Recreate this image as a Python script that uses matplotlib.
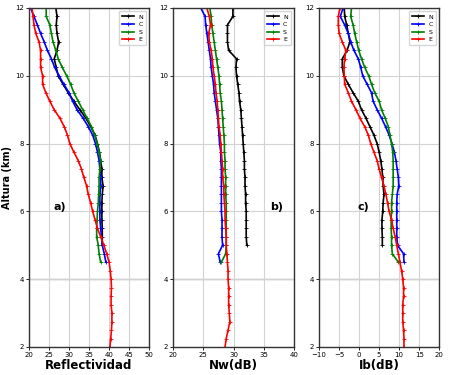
import matplotlib.pyplot as plt
import numpy as np

# alturas (km), paso 0.25
h_E = [2 + 0.25 * i for i in range(41)]   # 2 .. 12
h_N = [5 + 0.25 * i for i in range(29)]   # 5 .. 12
h_CS = [4.5 + 0.25 * i for i in range(31)]  # 4.5 .. 12

# a) Reflectividad
refl_N = [38.3, 38.3, 38.3, 38.2, 38.2, 38.2, 38.3, 38.5, 38.2, 38.2, 37.9, 37.6, 37.1, 36.5,
          35.4, 34.2, 32.7, 31.2, 29.8, 28.5, 27.3, 26.8, 26.3, 27.0, 27.4, 27.0, 26.8, 27.0,
          26.7]
refl_C = [39.2, 38.8, 38.3, 38.1, 37.9, 37.7, 37.7, 37.7, 37.7, 37.9, 37.9, 37.7, 37.5, 37.1,
          36.6, 35.9, 34.8, 33.5, 32.0, 30.9, 30.0, 28.7, 27.5, 26.4, 25.6, 24.6, 23.8, 22.9,
          22.1, 21.25, 20.4]
refl_S = [37.9, 37.5, 37.3, 36.9, 36.9, 37.0, 37.1, 37.3, 37.4, 37.5, 37.5, 37.7, 37.9, 37.5,
          37.0, 36.4, 35.6, 34.5, 33.4, 32.3, 31.2, 30.4, 29.4, 28.3, 27.3, 26.7, 26.0, 25.6,
          25.2, 24.3, 24.3]
refl_E = [40.2, 40.4, 40.6, 40.7, 40.7, 40.5, 40.5, 40.6, 40.5, 40.3, 40.0, 39.4, 38.7, 37.9,
          37.1, 36.5, 35.9, 35.4, 34.8, 34.4, 33.7, 33.1, 32.3, 31.2, 30.2, 29.6, 28.8, 27.7,
          26.3, 25.2, 24.2, 23.4, 23.4, 22.9, 22.9, 22.9, 22.5, 21.7, 21.25, 21.0, 20.75]

# b) Nw(dB)
nw_N = [32.2, 32.1, 32.1, 32.1, 32.1, 32.0, 32.0, 31.9, 31.9, 31.8, 31.8, 31.7, 31.6, 31.5,
        31.4, 31.3, 31.2, 31.0, 30.9, 30.7, 30.5, 30.4, 30.5, 29.2, 29.0, 29.0, 29.0, 29.9,
        29.9]
nw_C = [27.8, 27.5, 28.2, 28.1, 28.1, 28.1, 28.0, 28.0, 28.0, 28.0, 28.0, 28.0, 27.9, 27.9,
        27.7, 27.6, 27.5, 27.4, 27.2, 27.0, 26.8, 26.7, 26.5, 26.3, 26.2, 26.0, 25.8, 25.6,
        25.4, 25.3, 24.6]
nw_S = [28.0, 28.7, 28.8, 28.8, 28.8, 28.8, 28.8, 28.8, 28.7, 28.7, 28.7, 28.6, 28.6, 28.5,
        28.5, 28.4, 28.3, 28.2, 28.1, 28.0, 27.8, 27.7, 27.6, 27.4, 27.2, 27.0, 26.8, 26.6,
        26.4, 26.3, 26.1]
nw_E = [28.6, 28.8, 29.1, 29.4, 29.3, 29.2, 29.2, 29.2, 29.1, 29.1, 29.0, 28.9, 28.8, 28.8,
        28.7, 28.6, 28.6, 28.5, 28.4, 28.4, 28.2, 28.2, 28.1, 28.0, 27.9, 27.8, 27.6, 27.5,
        27.4, 27.3, 27.1, 27.0, 26.8, 26.6, 26.5, 26.3, 26.0, 25.9, 26.2, 26.0, 25.6]

# c) Ib(dB)
ib_N = [5.8, 5.8, 5.7, 5.7, 5.9, 6.0, 6.2, 6.0, 5.9, 5.7, 5.4, 5.0, 4.5, 3.7, 2.7, 1.7, 0.6,
        -0.2, -1.5, -2.7, -3.8, -4.2, -4.2, -3.0, -2.3, -2.7, -3.1, -3.6, -3.7]
ib_C = [11.2, 11.1, 9.6, 9.4, 9.4, 9.4, 9.4, 9.4, 9.5, 9.9, 9.8, 9.5, 9.2, 8.8, 8.2, 7.5,
        6.6, 5.6, 4.5, 3.5, 3.1, 2.0, 0.9, 0.4, -0.2, -1.3, -2.1, -2.7, -3.6, -4.7, -4.0]
ib_S = [9.8, 8.3, 8.1, 8.1, 8.0, 8.0, 8.1, 8.1, 8.3, 8.5, 8.5, 8.5, 8.5, 8.4, 8.1, 7.7, 7.3,
        6.5, 5.6, 5.0, 3.9, 3.1, 2.4, 1.4, 0.6, -0.1, -0.6, -1.1, -1.5, -2.1, -1.9]
ib_E = [11.2, 11.2, 11.1, 10.9, 10.9, 10.9, 11.1, 11.1, 10.9, 10.6, 10.2, 9.8, 9.4, 9.0,
        8.5, 8.1, 7.5, 7.1, 6.7, 6.2, 5.6, 5.0, 4.5, 3.7, 2.9, 2.3, 1.4, 0.2, -0.8, -1.9, -2.7,
        -3.6, -3.7, -3.8, -3.6, -3.3, -4.2, -5.0, -5.2, -5.2, -4.8]

colores = {"N": "black", "C": "blue", "S": "green", "E": "red"}

fig = plt.figure(figsize=(4.5, 3.75), dpi=100)
pos = [[0.0644, 0.0747, 0.267, 0.904],
       [0.3844, 0.0747, 0.269, 0.904],
       [0.709, 0.0747, 0.267, 0.904]]

paneles = [
    (refl_N, refl_C, refl_S, refl_E, (20, 50), np.arange(20, 51, 5), "Reflectividad", "a)", 26.0),
    (nw_N, nw_C, nw_S, nw_E, (20, 40), np.arange(20, 41, 5), "Nw(dB)", "b)", 36.0),
    (ib_N, ib_C, ib_S, ib_E, (-10, 20), np.arange(-10, 21, 5), "Ib(dB)", "c)", -0.3),
]

for k, (sN, sC, sS, sE, xl, xt, etiq, letra, xletra) in enumerate(paneles):
    ax = fig.add_axes(pos[k])
    for nom, hh, ss in [("N", h_N, sN), ("C", h_CS, sC), ("S", h_CS, sS), ("E", h_E, sE)]:
        ax.plot(ss, hh, color=colores[nom], lw=1.2, marker="+", ms=2.5, mew=0.6, label=nom)
    ax.set_xlim(xl)
    ax.set_ylim(2, 12)
    ax.set_xticks(xt)
    ax.set_yticks(np.arange(2, 13, 2))
    ax.grid(color="#d3d3d3", lw=0.8)
    ax.axhline(4, color="#aaaaaa", lw=1.0, zorder=0.5)
    ax.tick_params(labelsize=5, length=2, width=0.6, pad=1.5)
    ax.set_xlabel(etiq, fontsize=8.5, fontweight="bold", labelpad=1)
    ax.text(xletra, 6.05, letra, fontsize=8, fontweight="bold")
    ax.legend(loc="upper right", fontsize=4.5, handlelength=2.0, borderpad=0.5,
              labelspacing=0.35, handletextpad=0.6)
    for sp in ax.spines.values():
        sp.set_linewidth(1.0)
        sp.set_color("#333333")
    if k == 0:
        ax.set_ylabel("Altura (km)", fontsize=7, fontweight="bold", labelpad=2)

fig.savefig("out.png", dpi=100)
